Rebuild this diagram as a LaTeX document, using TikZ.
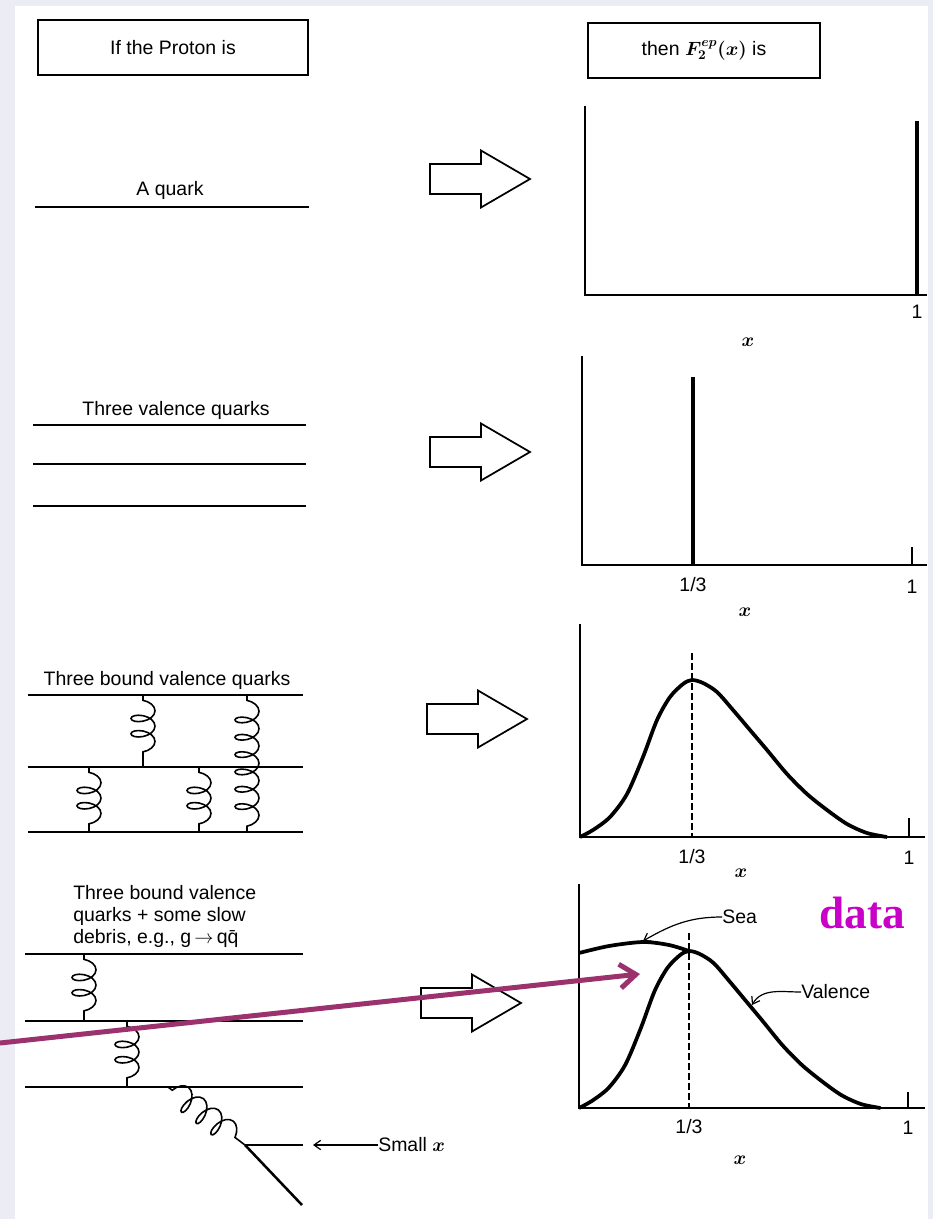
\documentclass[tikz,border=0pt]{standalone}
\usepackage{fontspec}
\setmainfont{Liberation Sans}
\newfontfamily\dataface{Liberation Serif}
\usetikzlibrary{arrows.meta,decorations.pathmorphing}
\definecolor{pagegrey}{RGB}{236,237,244}
\definecolor{datamag}{RGB}{200,0,200}
\definecolor{plum}{RGB}{155,50,110}
% hollow block arrow, tip at #1
\newcommand{\fatarrow}[1]{\draw[hollow, shift={#1}] (-100,-15) -- (-49,-15) -- (-49,-28.5) -- (0,0) -- (-49,28.5) -- (-49,15) -- (-100,15) -- cycle;}

\begin{document}
\begin{tikzpicture}[
    x=0.75pt, y=-0.75pt,
    lbl/.style={font=\fontsize{14.6}{16.5}\selectfont, inner sep=0pt},
    xlbl/.style={font=\fontsize{14.6}{16.5}\selectfont\boldmath, inner sep=0pt},
    hdr/.style={draw, line width=1.3pt, lbl, minimum height=41pt},
    quark/.style={line width=1.9pt},
    axis/.style={line width=1.4pt},
    spike/.style={line width=3pt},
    curve/.style={line width=2.8pt},
    guide/.style={line width=1pt, dash pattern=on 5pt off 2.5pt},
    hollow/.style={line width=1.3pt, fill=white},
    gluon/.style={line width=1.2pt, decorate, decoration={coil, aspect=0.55, amplitude=9pt, segment length=#1, pre length=4pt, post length=4pt}},
    gluon/.default=11.5pt,
    pointer/.style={line width=0.9pt, -{Straight Barb[length=5pt,width=7pt]}}
  ]
  \useasboundingbox (0,0) rectangle (933,1219);
  \fill[pagegrey] (0,0) rectangle (933,1219);
  \fill[white] (15,6) rectangle (928,1219);

  % headers
  \node[hdr, minimum width=202.5pt] (proton) at (173,47.5) {If the Proton is};
  \node[hdr, minimum width=174pt] (sfunc) at (704,50.5) {then {\boldmath$F_2^{ep}(x)$} is};

  % --- one quark ---
  \node[lbl] (onequark) at (170,190) {A quark};
  \draw[quark] (35,207) -- (309,207);
  \fatarrow{(530,179)}
  \begin{scope}[shift={(585,295)}]
    \draw[axis] (0,-189) -- (0,0) -- (342,0);
    \draw[spike] (332,-174) -- (332,0);
  \end{scope}
  \node[lbl] (one1) at (917,312) {1};
  \node[xlbl] (xa) at (748,342) {$x$};

  % --- three valence quarks ---
  \node[lbl] (threeq) at (176,410) {Three valence quarks};
  \foreach \y in {425,464,506}
    \draw[quark] (33,\y) -- (306,\y);
  \fatarrow{(530,452)}
  \begin{scope}[shift={(582,565)}]
    \draw[axis] (0,-209) -- (0,0) -- (345,0);
    \draw[spike] (111,-188) -- (111,0);
    \draw[axis] (330,-18) -- (330,0);
  \end{scope}
  \node[lbl] (third2) at (693,585) {1/3};
  \node[lbl] (one2) at (912,587) {1};
  \node[xlbl] (xb) at (745,612) {$x$};

  % --- bound valence quarks ---
  \node[lbl] (boundq) at (167,680) {Three bound valence quarks};
  \foreach \y in {695,767,832}
    \draw[quark] (28,\y) -- (303,\y);
  \draw[gluon] (143,695) -- (143,767);
  \draw[gluon=13pt] (247,695) -- (247,832);
  \draw[gluon] (89,767) -- (89,832);
  \draw[gluon] (199,767) -- (199,832);
  \fatarrow{(527,719)}
  \begin{scope}[shift={(580,837)}]
    \draw[axis] (0,-213) -- (0,0) -- (345,0);
    \draw[guide] (112,-184) -- (112,0);
    \draw[axis] (329,-19) -- (329,0);
    \draw[curve] plot[smooth] coordinates {(0,0) (13,-7) (30,-20) (47,-43) (63,-80) (77,-117) (90,-140) (103,-153) (112,-157) (123,-154) (137,-145) (153,-127) (170,-107) (187,-87) (207,-63) (227,-43) (247,-27) (267,-13) (287,-4) (307,0)};
  \end{scope}
  \node[lbl] (third3) at (692,857) {1/3};
  \node[lbl] (one3) at (909,858) {1};
  \node[xlbl] (xc) at (741,873) {$x$};

  % --- bound quarks + sea ---
  \node[lbl, anchor=west, align=left] (debris) at (73,916) {Three bound valence\\quarks + some slow\\debris, e.g., g\,$\to$\,q\={q}};
  \foreach \y in {954,1021,1087}
    \draw[quark] (25,\y) -- (303,\y);
  \draw[gluon] (84,954) -- (84,1021);
  \draw[gluon] (127,1021) -- (127,1087);
  \coordinate (vtx) at (245,1145);
  \coordinate (qout) at (303,1145);
  \coordinate (qbar) at (302,1205);
  \draw[gluon=14pt] (168,1087) -- (vtx);
  \draw[quark] (vtx) -- (qout);
  \draw[quark] (vtx) -- (qbar);
  \node[lbl, anchor=west] (smallx) at (378,1145) {Small {\boldmath$x$}};
  \draw[pointer] (smallx.west) -- ([xshift=7.5pt]qout);
  \fatarrow{(521,1003)}
  \begin{scope}[shift={(579,1108)}]
    \draw[axis] (0,-224) -- (0,0) -- (346,0);
    \draw[guide] (110,-175) -- (110,0);
    \draw[axis] (329,-16) -- (329,0);
    \draw[curve, xscale=0.982] plot[smooth] coordinates {(0,0) (13,-7) (30,-20) (47,-43) (63,-80) (77,-117) (90,-140) (103,-153) (112,-157) (123,-154) (137,-145) (153,-127) (170,-107) (187,-87) (207,-63) (227,-43) (247,-27) (267,-13) (287,-4) (307,0)};
    \draw[curve] plot[smooth] coordinates {(0,-155) (30,-162) (64,-166) (90,-163) (110,-157)};
    \coordinate (seapt) at (64,-167);
    \coordinate (valpt) at (173,-103);
  \end{scope}
  \node[lbl, anchor=west] (sea) at (722,917) {Sea};
  \draw[pointer] (sea.west) to[out=180, in=30] (seapt);
  \node[lbl, anchor=west] (val) at (801,992) {Valence};
  \draw[pointer] (val.west) to[out=180, in=60] (valpt);
  \node[lbl] (third4) at (689,1127) {1/3};
  \node[lbl] (one4) at (908,1128) {1};
  \node[xlbl] (xd) at (740,1160) {$x$};

  % overlay
  \node[font=\dataface\bfseries\fontsize{34}{40}\selectfont, text=datamag, inner sep=0pt] (data) at (862,913) {data};
  \coordinate (datastart) at (0,1043);
  \coordinate (datatip) at (640,974);
  \draw[plum, line width=3.75pt, -{Straight Barb[length=12pt,width=18pt]}] (datastart) -- (datatip);
\end{tikzpicture}
\end{document}
